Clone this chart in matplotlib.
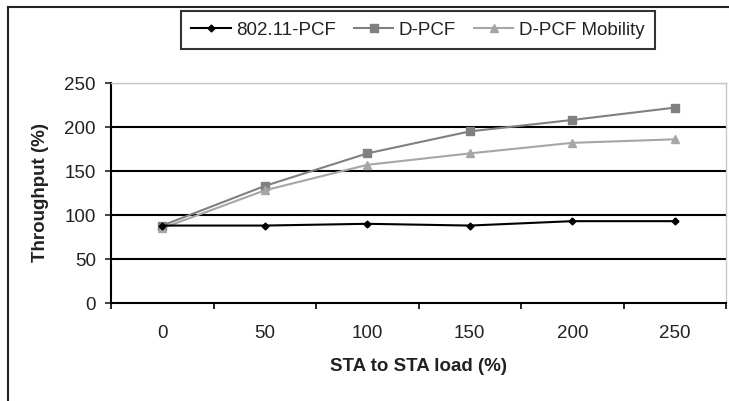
import matplotlib
matplotlib.use("Agg")
import matplotlib.pyplot as plt
from matplotlib.lines import Line2D

plt.rcParams['font.family'] = ['Liberation Sans', 'DejaVu Sans']

# Données
charges = ['0', '50', '100', '150', '200', '250']
pcf = [88, 88, 90, 88, 93, 93]
dpcf = [88, 133, 170, 195, 208, 222]
dpcf_mob = [85, 128, 157, 170, 182, 186]
y_ticks = [0, 50, 100, 150, 200, 250]

taille = 13.5

fig = plt.figure(figsize=(7.29, 4.01), dpi=100)
ax = fig.add_axes([111/729, 1 - 303/401, (726 - 111)/729, (303 - 83)/401])

x = range(len(charges))
ax.plot(x, pcf, color='black', linewidth=1.5, marker='D', markersize=3.5,
        label='802.11-PCF', zorder=4)
ax.plot(x, dpcf, color='#808080', linewidth=1.5, marker='s', markersize=6,
        label='D-PCF', zorder=3)
ax.plot(x, dpcf_mob, color='#a6a6a6', linewidth=1.5, marker='^', markersize=6,
        label='D-PCF Mobility', zorder=3)

# Grille horizontale façon Excel
for v in y_ticks[1:-1]:
    ax.axhline(v, color='black', linewidth=1.5, zorder=1)
ax.axhline(y_ticks[-1], color='#c8c8c8', linewidth=1, zorder=1)

ax.set_xlim(-0.5, len(charges) - 0.5)
ax.set_ylim(0, 250)
ax.set_yticks(y_ticks)
ax.set_xticks(list(x))
ax.set_xticklabels(charges)
ax.set_xticks([i - 0.5 for i in range(len(charges) + 1)], minor=True)
ax.tick_params(axis='x', which='major', length=0, pad=15.5, labelsize=taille,
               colors='#222222')
ax.tick_params(axis='x', which='minor', length=4, width=1.2, direction='out')
ax.tick_params(axis='y', length=4, width=1.2, direction='out', pad=7,
               labelsize=taille, colors='#222222')

for side in ['left', 'bottom']:
    ax.spines[side].set_linewidth(1.5)
    ax.spines[side].set_color('black')
for side in ['top', 'right']:
    ax.spines[side].set_linewidth(1)
    ax.spines[side].set_color('#c8c8c8')

ax.set_xlabel('STA to STA load (%)', fontsize=taille, fontweight='bold',
              labelpad=12, color='#222222')
ax.set_ylabel('Throughput (%)', fontsize=taille, fontweight='bold',
              labelpad=11, color='#222222')

leg = fig.legend(loc='center', bbox_to_anchor=(418/729, 1 - 30/401), ncol=3,
                 fontsize=taille, frameon=True, fancybox=False, handlelength=2.1,
                 handletextpad=0.3, columnspacing=0.95, borderpad=0.55,
                 labelcolor='#222222')
leg.get_frame().set_edgecolor('black')
leg.get_frame().set_linewidth(1.5)

# Cadre extérieur (bords gauche et haut seulement visibles)
fig.add_artist(Line2D([8/729, 8/729], [0, 1 - 7/401], color='#222222',
                      linewidth=1.5, transform=fig.transFigure))
fig.add_artist(Line2D([8/729, 1], [1 - 7/401, 1 - 7/401], color='#222222',
                      linewidth=1.5, transform=fig.transFigure))

fig.savefig('out.png', dpi=100)
